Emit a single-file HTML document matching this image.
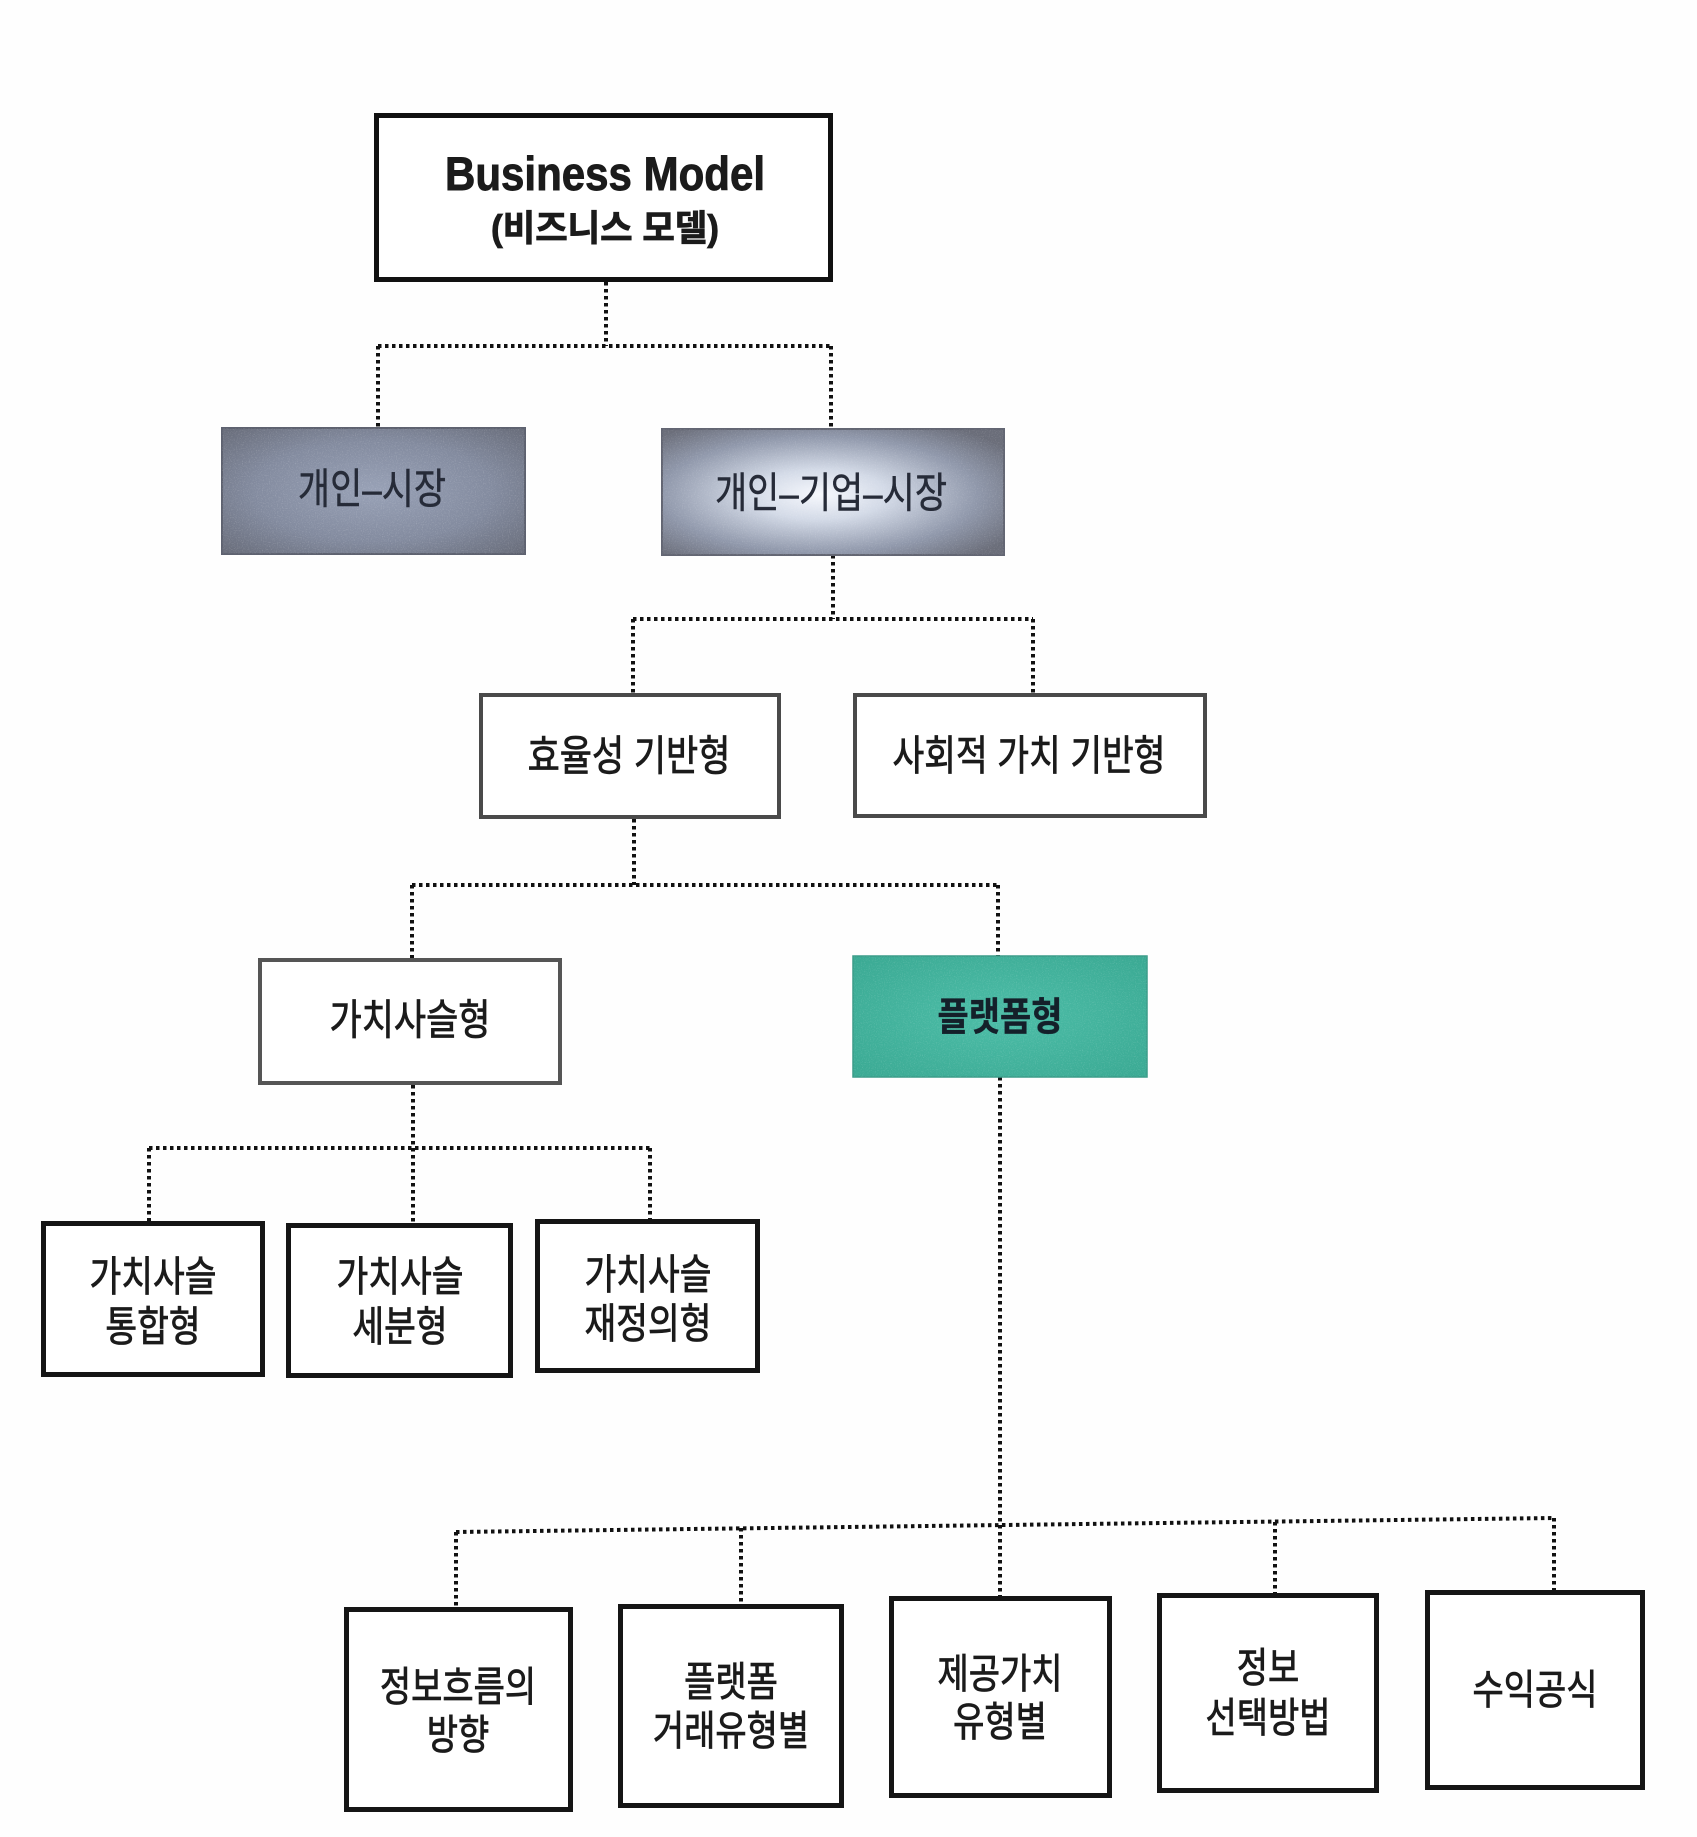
<!DOCTYPE html>
<html>
<head>
<meta charset="utf-8">
<style>
  html, body { margin:0; padding:0; background:#fefefe; }
  svg { display:block; }
  .t { font-family: "Liberation Sans", "Noto Sans CJK KR", sans-serif; fill:#1b1b1b; stroke:#1b1b1b; stroke-width:0.7px; }
</style>
</head>
<body>
<svg width="1697" height="1837" viewBox="0 0 1697 1837" xmlns="http://www.w3.org/2000/svg">
  <defs>
    <radialGradient id="g1" cx="50%" cy="50%" r="72%">
      <stop offset="0" stop-color="#98a1b6"/>
      <stop offset="0.55" stop-color="#838b9f"/>
      <stop offset="1" stop-color="#666a77"/>
    </radialGradient>
    <radialGradient id="g2" cx="46%" cy="52%" r="66%">
      <stop offset="0" stop-color="#f6f8fd"/>
      <stop offset="0.3" stop-color="#d3dae7"/>
      <stop offset="0.7" stop-color="#9098ab"/>
      <stop offset="1" stop-color="#6a6d79"/>
    </radialGradient>
    <radialGradient id="g3" cx="50%" cy="50%" r="70%">
      <stop offset="0" stop-color="#4cbda7"/>
      <stop offset="1" stop-color="#3aa993"/>
    </radialGradient>
    <filter id="noise" x="0" y="0" width="100%" height="100%">
      <feTurbulence type="fractalNoise" baseFrequency="0.85" numOctaves="2" seed="4" result="t"/>
      <feColorMatrix in="t" values="0 0 0 0 1  0 0 0 0 1  0 0 0 0 1  0 0 0 1.4 -0.7"/>
      <feComposite in2="SourceGraphic" operator="in"/>
    </filter>
  </defs>

  <!-- ============ Connectors (dotted) ============ -->
  <g stroke="#111" stroke-width="4" stroke-dasharray="3.5 3.5" fill="none">
    <line x1="606" y1="282" x2="606" y2="346"/>
    <line x1="378" y1="346" x2="831" y2="346"/>
    <line x1="378" y1="346" x2="378" y2="428"/>
    <line x1="831" y1="346" x2="831" y2="429"/>
    <line x1="833" y1="555" x2="833" y2="619"/>
    <line x1="633" y1="619" x2="1033" y2="619"/>
    <line x1="633" y1="619" x2="633" y2="693"/>
    <line x1="1033" y1="619" x2="1033" y2="693"/>
    <line x1="634" y1="819" x2="634" y2="885"/>
    <line x1="412" y1="885" x2="998" y2="885"/>
    <line x1="412" y1="885" x2="412" y2="958"/>
    <line x1="998" y1="885" x2="998" y2="956"/>
    <line x1="413" y1="1085" x2="413" y2="1148"/>
    <line x1="149" y1="1148" x2="650" y2="1148"/>
    <line x1="149" y1="1148" x2="149" y2="1221"/>
    <line x1="413" y1="1148" x2="413" y2="1223"/>
    <line x1="650" y1="1148" x2="650" y2="1219"/>
    <line x1="1000" y1="1077" x2="1000" y2="1596"/>
    <line x1="456" y1="1532" x2="1554" y2="1518"/>
    <line x1="456" y1="1532" x2="456" y2="1607"/>
    <line x1="741" y1="1528" x2="741" y2="1604"/>
    <line x1="1275" y1="1522" x2="1275" y2="1593"/>
    <line x1="1554" y1="1518" x2="1554" y2="1590"/>
  </g>

  <!-- ============ Root box ============ -->
  <rect x="376.5" y="115.5" width="454" height="164" fill="#ffffff" stroke="#111" stroke-width="5"/>
  <text class="t" transform="translate(605,190) scale(1,1.25)" x="0" y="0" font-size="38" font-weight="bold" text-anchor="middle" textLength="320" lengthAdjust="spacingAndGlyphs">Business Model</text>
  <text class="t" transform="translate(605,229) scale(1,1.2)" x="0" y="0" font-size="30" font-weight="bold" text-anchor="middle" dominant-baseline="central" textLength="228" lengthAdjust="spacingAndGlyphs">(비즈니스 모델)</text>

  <!-- ============ Level 1 ============ -->
  <rect x="222" y="428" width="303" height="126" fill="url(#g1)" stroke="#5e6270" stroke-width="2"/>
  <rect x="222" y="428" width="303" height="126" fill="#fff" filter="url(#noise)" opacity="0.35"/>
  <text class="t" transform="translate(372,490) scale(1,1.2)" font-size="35" text-anchor="middle" dominant-baseline="central" style="fill:#262b38;stroke:#262b38;stroke-width:0.4px">개인–시장</text>

  <rect x="662" y="429" width="342" height="126" fill="url(#g2)" stroke="#636673" stroke-width="2"/>
  <rect x="662" y="429" width="342" height="126" fill="#fff" filter="url(#noise)" opacity="0.3"/>
  <text class="t" transform="translate(831,494) scale(1,1.2)" font-size="35" text-anchor="middle" dominant-baseline="central" style="fill:#262b38;stroke:#262b38;stroke-width:0.4px">개인–기업–시장</text>

  <!-- ============ Level 2 ============ -->
  <rect x="481" y="695" width="298" height="122" fill="#fff" stroke="#4a4a4a" stroke-width="4"/>
  <text class="t" transform="translate(629,757) scale(1,1.2)" font-size="35" text-anchor="middle" dominant-baseline="central">효율성 기반형</text>

  <rect x="855" y="695" width="350" height="121" fill="#fff" stroke="#4a4a4a" stroke-width="4"/>
  <text class="t" transform="translate(1029,757) scale(1,1.2)" font-size="34.5" text-anchor="middle" dominant-baseline="central">사회적 가치 기반형</text>

  <!-- ============ Level 3 ============ -->
  <rect x="260" y="960" width="300" height="123" fill="#fff" stroke="#555" stroke-width="4"/>
  <text class="t" transform="translate(410,1021) scale(1,1.2)" font-size="35" text-anchor="middle" dominant-baseline="central">가치사슬형</text>

  <rect x="853" y="956" width="294" height="121" fill="url(#g3)" stroke="#3a9c88" stroke-width="1.5"/>
  <rect x="853" y="956" width="294" height="121" fill="#fff" filter="url(#noise)" opacity="0.3"/>
  <text class="t" transform="translate(1000,1017) scale(1,1.15)" font-size="34" font-weight="bold" text-anchor="middle" dominant-baseline="central" style="fill:#14202a;stroke:#14202a;stroke-width:0.3px">플랫폼형</text>

  <!-- ============ Level 4 ============ -->
  <g fill="#fff" stroke="#151515" stroke-width="5">
    <rect x="43.5" y="1223.5" width="219" height="151"/>
    <rect x="288.5" y="1225.5" width="222" height="150"/>
    <rect x="537.5" y="1221.5" width="220" height="149"/>
  </g>
  <g class="t" font-size="34.5" text-anchor="middle" dominant-baseline="central">
    <text transform="translate(153,1278) scale(1,1.2)">가치사슬</text>
    <text transform="translate(153,1328) scale(1,1.2)">통합형</text>
    <text transform="translate(400,1278) scale(1,1.2)">가치사슬</text>
    <text transform="translate(400,1328) scale(1,1.2)">세분형</text>
    <text transform="translate(648,1276) scale(1,1.2)">가치사슬</text>
    <text transform="translate(648,1325) scale(1,1.2)">재정의형</text>
  </g>

  <!-- ============ Level 5 ============ -->
  <g fill="#fff" stroke="#151515" stroke-width="5">
    <rect x="346.5" y="1609.5" width="224" height="200"/>
    <rect x="620.5" y="1606.5" width="221" height="199"/>
    <rect x="891.5" y="1598.5" width="218" height="197"/>
    <rect x="1159.5" y="1595.5" width="217" height="195"/>
    <rect x="1427.5" y="1592.5" width="215" height="195"/>
  </g>
  <g class="t" font-size="34" text-anchor="middle" dominant-baseline="central">
    <text transform="translate(458,1687) scale(1,1.2)">정보흐름의</text>
    <text transform="translate(458,1735) scale(1,1.2)">방향</text>
    <text transform="translate(731,1682) scale(1,1.2)">플랫폼</text>
    <text transform="translate(731,1731) scale(1,1.2)">거래유형별</text>
    <text transform="translate(1000,1674) scale(1,1.2)">제공가치</text>
    <text transform="translate(1000,1722) scale(1,1.2)">유형별</text>
    <text transform="translate(1268,1668) scale(1,1.2)">정보</text>
    <text transform="translate(1268,1718) scale(1,1.2)">선택방법</text>
    <text transform="translate(1535,1690) scale(1,1.2)">수익공식</text>
  </g>
</svg>
</body>
</html>
